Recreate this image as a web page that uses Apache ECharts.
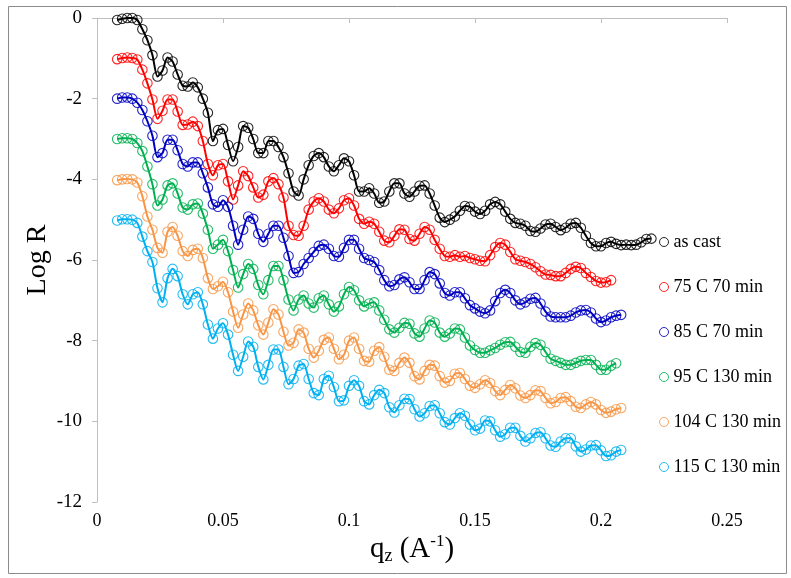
<!DOCTYPE html>
<html>
<head>
<meta charset="utf-8">
<script src="https://cdn.jsdelivr.net/npm/echarts@6/dist/echarts.min.js"></script>
<style>
  html, body { margin: 0; padding: 0; background: #fff; }
  #chart { width: 791px; height: 578px; }
</style>
</head>
<body>
<div id="chart"></div>
<script>
// Scattering vector q_z (1/A), shared grid for all samples
const qz = [
  0.008, 0.010, 0.012, 0.014, 0.016, 0.018, 0.020, 0.022, 0.024, 0.026,
  0.028, 0.030, 0.032, 0.034, 0.036, 0.038, 0.040, 0.042, 0.044, 0.046,
  0.048, 0.050, 0.052, 0.054, 0.056, 0.058, 0.060, 0.062, 0.064, 0.066,
  0.068, 0.070, 0.072, 0.074, 0.076, 0.078, 0.080, 0.082, 0.084, 0.086,
  0.088, 0.090, 0.092, 0.094, 0.096, 0.098, 0.100, 0.102, 0.104, 0.106,
  0.108, 0.110, 0.112, 0.114, 0.116, 0.118, 0.120, 0.122, 0.124, 0.126,
  0.128, 0.130, 0.132, 0.134, 0.136, 0.138, 0.140, 0.142, 0.144, 0.146,
  0.148, 0.150, 0.152, 0.154, 0.156, 0.158, 0.160, 0.162, 0.164, 0.166,
  0.168, 0.170, 0.172, 0.174, 0.176, 0.178, 0.180, 0.182, 0.184, 0.186,
  0.188, 0.190, 0.192, 0.194, 0.196, 0.198, 0.200, 0.202, 0.204, 0.206,
  0.208, 0.210, 0.212, 0.214, 0.216, 0.218, 0.220
];

// Log R for each sample (curves offset by one decade each)
const asCast = [
  -0.05, -0.02, 0.00, 0.00, -0.05, -0.28, -0.55, -0.92, -1.45, -1.30,
  -0.98, -1.08, -1.40, -1.68, -1.70, -1.60, -1.72, -2.00, -2.35, -3.05,
  -2.78, -2.75, -3.15, -3.55, -3.20, -2.68, -2.72, -3.00, -3.35, -3.35,
  -3.05, -3.05, -3.20, -3.45, -3.85, -4.30, -4.40, -4.00, -3.65, -3.42,
  -3.35, -3.45, -3.68, -3.80, -3.65, -3.48, -3.55, -3.90, -4.30, -4.30,
  -4.22, -4.35, -4.58, -4.55, -4.30, -4.10, -4.10, -4.35, -4.43, -4.30,
  -4.16, -4.15, -4.35, -4.65, -4.95, -5.06, -5.00, -4.92, -4.78, -4.66,
  -4.68, -4.80, -4.86, -4.78, -4.62, -4.56, -4.62, -4.80, -4.98, -5.08,
  -5.10, -5.15, -5.28, -5.30, -5.22, -5.12, -5.10, -5.18, -5.26, -5.20,
  -5.10, -5.08, -5.20, -5.40, -5.58, -5.66, -5.66, -5.58, -5.55, -5.60,
  -5.63, -5.62, -5.63, -5.62, -5.56, -5.48, -5.47
];
const c75 = [
  -1.02, -0.99, -0.98, -0.99, -1.03, -1.28, -1.62, -2.02, -2.50, -2.30,
  -2.02, -2.02, -2.32, -2.65, -2.64, -2.57, -2.68, -3.05, -3.62, -3.90,
  -3.65, -3.62, -4.05, -4.50, -4.15, -3.80, -3.92, -4.20, -4.45, -4.38,
  -4.05, -3.97, -4.12, -4.45, -5.15, -5.38, -5.40, -5.15, -4.75, -4.55,
  -4.47, -4.55, -4.75, -4.84, -4.72, -4.52, -4.47, -4.65, -4.98, -5.10,
  -5.05, -5.10, -5.30, -5.52, -5.56, -5.40, -5.24, -5.25, -5.48, -5.52,
  -5.35, -5.18, -5.25, -5.50, -5.72, -5.90, -5.92, -5.88, -5.92, -5.90,
  -5.95, -5.98, -6.02, -6.03, -5.88, -5.68, -5.58, -5.62, -5.80, -5.98,
  -6.02, -6.05, -6.10, -6.18, -6.28, -6.36, -6.37, -6.40, -6.40, -6.32,
  -6.22, -6.17, -6.20, -6.32, -6.42, -6.52, -6.56, -6.55, -6.50
];
const c85 = [
  -2.00, -1.97, -1.97, -2.00, -2.10, -2.28, -2.56, -2.92, -3.45, -3.35,
  -3.02, -3.02, -3.28, -3.62, -3.68, -3.58, -3.58, -3.85, -4.20, -4.62,
  -4.68, -4.52, -4.68, -5.15, -5.62, -5.25, -4.92, -4.98, -5.35, -5.55,
  -5.35, -5.15, -5.15, -5.45, -5.90, -6.32, -6.30, -6.10, -5.95, -5.80,
  -5.65, -5.62, -5.72, -5.90, -5.92, -5.70, -5.50, -5.50, -5.72, -5.95,
  -6.00, -6.05, -6.25, -6.50, -6.65, -6.62, -6.48, -6.43, -6.55, -6.72,
  -6.72, -6.50, -6.30, -6.35, -6.58, -6.82, -6.88, -6.80, -6.80, -6.95,
  -7.12, -7.20, -7.28, -7.32, -7.25, -7.02, -6.82, -6.74, -6.82, -7.00,
  -7.10, -7.05, -6.96, -6.94, -7.08, -7.28, -7.40, -7.42, -7.42, -7.42,
  -7.38, -7.30, -7.25, -7.24, -7.30, -7.45, -7.54, -7.50, -7.42, -7.38,
  -7.36
];
const c95 = [
  -3.00, -2.98, -2.98, -3.00, -3.10, -3.30, -3.68, -4.12, -4.65, -4.50,
  -4.15, -4.10, -4.35, -4.70, -4.75, -4.62, -4.60, -4.85, -5.25, -5.72,
  -5.62, -5.50, -5.78, -6.25, -6.68, -6.35, -6.10, -6.22, -6.62, -6.85,
  -6.50, -6.15, -6.15, -6.50, -6.98, -7.25, -6.98, -6.88, -7.08, -7.18,
  -6.95, -6.88, -7.10, -7.28, -7.15, -6.85, -6.67, -6.75, -7.00, -7.15,
  -7.08, -7.05, -7.25, -7.48, -7.72, -7.80, -7.68, -7.56, -7.58, -7.82,
  -7.90, -7.70, -7.50, -7.55, -7.80, -7.90, -7.82, -7.70, -7.72, -7.92,
  -8.12, -8.23, -8.30, -8.30, -8.24, -8.18, -8.10, -8.04, -8.03, -8.15,
  -8.28, -8.30, -8.15, -8.06, -8.10, -8.28, -8.45, -8.50, -8.55, -8.60,
  -8.60, -8.55, -8.50, -8.48, -8.48, -8.60, -8.72, -8.72, -8.62, -8.56
];
const c104 = [
  -4.02, -4.00, -3.99, -4.00, -4.08, -4.42, -4.92, -5.25, -5.70, -5.82,
  -5.30, -5.18, -5.40, -5.78, -5.90, -5.75, -5.72, -5.95, -6.45, -6.72,
  -6.65, -6.54, -6.80, -7.28, -7.68, -7.35, -7.08, -7.25, -7.62, -7.85,
  -7.55, -7.22, -7.35, -7.78, -8.12, -8.05, -7.72, -7.80, -8.20, -8.42,
  -8.25, -7.98, -7.92, -8.20, -8.46, -8.35, -8.00, -7.92, -8.20, -8.50,
  -8.52, -8.25, -8.16, -8.40, -8.72, -8.75, -8.55, -8.42, -8.55, -8.88,
  -8.96, -8.75, -8.60, -8.62, -8.88, -9.04, -9.00, -8.82, -8.80, -8.95,
  -9.12, -9.17, -9.08, -8.98, -9.05, -9.25, -9.35, -9.22, -9.10, -9.18,
  -9.36, -9.42, -9.35, -9.23, -9.25, -9.42, -9.55, -9.52, -9.42, -9.40,
  -9.50, -9.64, -9.67, -9.58, -9.52, -9.58, -9.72, -9.79, -9.76, -9.70,
  -9.67
];
const c115 = [
  -5.02, -4.99, -4.99, -5.00, -5.08, -5.42, -5.78, -6.05, -6.70, -7.05,
  -6.45, -6.22, -6.40, -6.85, -7.10, -6.85, -6.80, -7.10, -7.60, -7.95,
  -7.70, -7.57, -7.85, -8.35, -8.75, -8.40, -8.02, -8.15, -8.65, -8.96,
  -8.60, -8.22, -8.22, -8.65, -9.08, -8.95, -8.62, -8.58, -8.95, -9.30,
  -9.35, -8.95, -8.87, -9.15, -9.50, -9.48, -9.12, -8.98, -9.12, -9.50,
  -9.58, -9.35, -9.22, -9.30, -9.65, -9.78, -9.60, -9.44, -9.45, -9.70,
  -9.88, -9.80, -9.62, -9.60, -9.80, -10.02, -10.08, -9.92, -9.80, -9.86,
  -10.08, -10.22, -10.18, -9.98, -10.00, -10.22, -10.38, -10.32, -10.16, -10.16,
  -10.36, -10.50, -10.42, -10.29, -10.27, -10.42, -10.60, -10.63, -10.50, -10.42,
  -10.42, -10.62, -10.75, -10.70, -10.60, -10.59, -10.72, -10.86, -10.84, -10.75,
  -10.71
];

const sampleNames = ['as cast', '75 C 70 min', '85 C 70 min', '95 C 130 min', '104 C 130 min', '115 C 130 min'];
const sampleValues = [asCast, c75, c85, c95, c104, c115];
const sampleColors = ['#000000', '#FF0000', '#0000C0', '#00B050', '#F79646', '#00B0F0'];

const xTicks = { min: 0, max: 0.25, step: 0.05 };
const yTicks = { min: -12, max: 0, step: 2 };

const serif = '"Liberation Serif", "Times New Roman", serif';

function pairs(vals) {
  return vals.map((v, i) => [qz[i], v]);
}

const series = [];
sampleValues.forEach((vals, k) => {
  // fitted curve drawn as a solid line through the measured points
  series.push({
    name: sampleNames[k] + ' fit',
    type: 'line',
    data: pairs(vals),
    showSymbol: false,
    smooth: 0.25,
    lineStyle: { color: sampleColors[k], width: 2 },
    z: 2,
    silent: true
  });
});
sampleValues.forEach((vals, k) => {
  // measured reflectivity as open circles
  series.push({
    name: sampleNames[k],
    type: 'scatter',
    data: pairs(vals),
    symbol: 'circle',
    symbolSize: 9.5,
    itemStyle: { color: 'rgba(0,0,0,0)', borderColor: sampleColors[k], borderWidth: 1.1, opacity: 0.85 },
    z: 3
  });
});

const chart = echarts.init(document.getElementById('chart'), null, { renderer: 'canvas' });
chart.setOption({
  animation: false,
  backgroundColor: '#ffffff',
  textStyle: { fontFamily: serif },
  grid: { left: 97, right: 64, top: 18, bottom: 76, containLabel: false },
  graphic: [{
    type: 'rect',
    shape: { x: 8.5, y: 6.5, width: 778, height: 567 },
    style: { fill: 'none', stroke: '#8C8C8C', lineWidth: 1 },
    silent: true,
    z: -1
  }],
  legend: {
    orient: 'vertical',
    left: 654,
    top: 228,
    itemWidth: 9,
    itemHeight: 9,
    itemGap: 27,
    icon: 'circle',
    data: sampleNames.map((n, k) => ({
      name: n,
      itemStyle: { color: 'rgba(0,0,0,0)', borderColor: sampleColors[k], borderWidth: 1 }
    })),
    textStyle: { fontFamily: serif, fontSize: 18, color: '#000', lineHeight: 18 },
    selectedMode: false
  },
  xAxis: {
    type: 'value',
    min: xTicks.min,
    max: xTicks.max,
    interval: xTicks.step,
    axisLine: { lineStyle: { color: '#BFBFBF', width: 1 } },
    axisTick: { show: true, length: 5, lineStyle: { color: '#BFBFBF' } },
    splitLine: { show: false },
    axisLabel: { fontFamily: serif, fontSize: 18, color: '#000', margin: 10 },
    name: 'q{sub|z} (A{sup|-1})',
    nameLocation: 'middle',
    nameGap: 31,
    nameMoveOverlap: false,
    nameTextStyle: {
      fontFamily: serif, fontSize: 29, color: '#000', lineHeight: 32,
      rich: {
        sub: { fontFamily: serif, fontSize: 18, color: '#000', verticalAlign: 'bottom', lineHeight: 13, padding: [12, 0, 0, 0] },
        sup: { fontFamily: serif, fontSize: 17, color: '#000', verticalAlign: 'top', lineHeight: 13, padding: [0, 0, 10, 0] }
      }
    }
  },
  yAxis: {
    type: 'value',
    min: yTicks.min,
    max: yTicks.max,
    interval: yTicks.step,
    axisLine: { show: true, lineStyle: { color: '#BFBFBF', width: 1 } },
    axisTick: { show: true, length: 5, lineStyle: { color: '#BFBFBF' } },
    splitLine: { show: false },
    axisLabel: { fontFamily: serif, fontSize: 19, color: '#000', margin: 15 },
    name: 'Log R',
    nameLocation: 'middle',
    nameGap: 45,
    nameMoveOverlap: false,
    nameTextStyle: { fontFamily: serif, fontSize: 28, color: '#000' }
  },
  series: series
});
</script>
</body>
</html>
